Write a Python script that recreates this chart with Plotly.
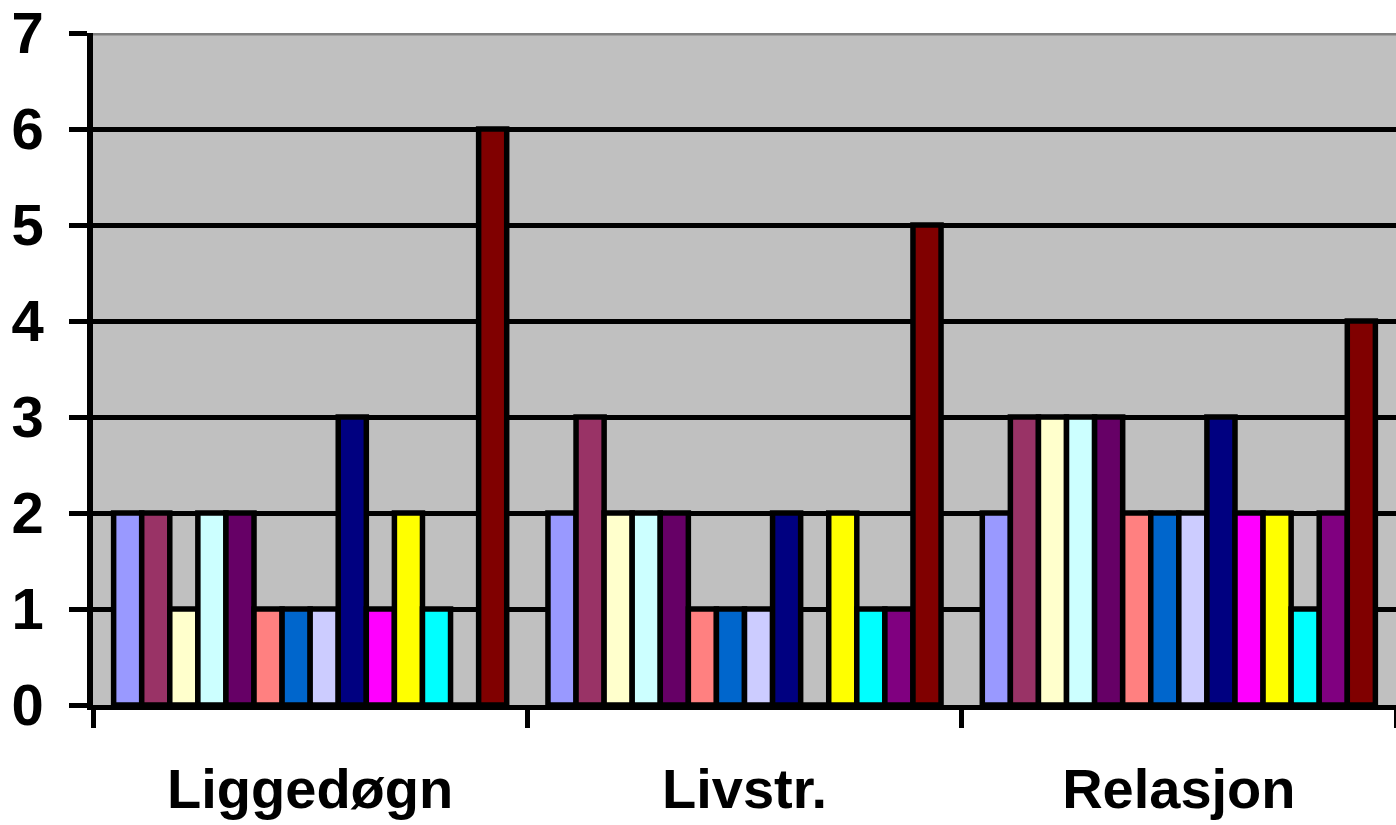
import plotly.graph_objects as go

# Categories on the x axis
categories = ["Liggedøgn", "Livstr.", "Relasjon"]

# One series per respondent; values per category
series_names = [f"Serie {i}" for i in range(1, 15)]
series_colors = [
    "#9999FF", "#993366", "#FFFFCC", "#CCFFFF", "#660066", "#FF8080", "#0066CC",
    "#CCCCFF", "#000080", "#FF00FF", "#FFFF00", "#00FFFF", "#800080", "#800000",
]
liggedogn = [2, 2, 1, 2, 2, 1, 1, 1, 3, 1, 2, 1, 0, 6]
livstr = [2, 3, 2, 2, 2, 1, 1, 1, 2, 0, 2, 1, 1, 5]
relasjon = [2, 3, 3, 3, 3, 2, 2, 2, 3, 2, 2, 1, 2, 4]

y_ticks = [0, 1, 2, 3, 4, 5, 6, 7]

fig = go.Figure()
for i, (name, color) in enumerate(zip(series_names, series_colors)):
    fig.add_trace(go.Bar(
        x=categories,
        y=[liggedogn[i], livstr[i], relasjon[i]],
        name=name,
        marker=dict(color=color, line=dict(color="black", width=5.5)),
        showlegend=False,
    ))

label_font = dict(family="Liberation Sans, Arial, sans-serif", color="black", weight="bold")

fig.update_layout(
    width=1396,
    height=825,
    margin=dict(l=93, r=0, t=31, b=120),
    paper_bgcolor="white",
    plot_bgcolor="#C0C0C0",
    barmode="group",
    bargap=0.095,
    bargroupgap=0,
    showlegend=False,
    xaxis=dict(
        type="category",
        range=[-0.5, 2.5],
        tickson="boundaries",
        ticks="outside",
        ticklen=18,
        tickwidth=5,
        tickcolor="black",
        showgrid=False,
        showline=True,
        linecolor="black",
        linewidth=5,
        ticklabelstandoff=31,
        ticklabeloverflow="allow",
        tickfont=dict(size=56, **label_font),
    ),
    yaxis=dict(
        range=[0, 7],
        tickvals=y_ticks,
        ticktext=[str(v) for v in y_ticks],
        ticks="outside",
        ticklen=18,
        tickwidth=5,
        tickcolor="black",
        showgrid=True,
        gridcolor="black",
        gridwidth=5,
        zeroline=False,
        showline=True,
        linecolor="black",
        linewidth=5.5,
        ticklabelstandoff=14,
        ticklabeloverflow="allow",
        tickfont=dict(size=58, **label_font),
    ),
    shapes=[
        dict(type="line", xref="paper", yref="y", x0=0, x1=1, y0=7, y1=7,
             line=dict(color="#808080", width=5), layer="above"),
    ],
)

fig.write_html("out.html")
